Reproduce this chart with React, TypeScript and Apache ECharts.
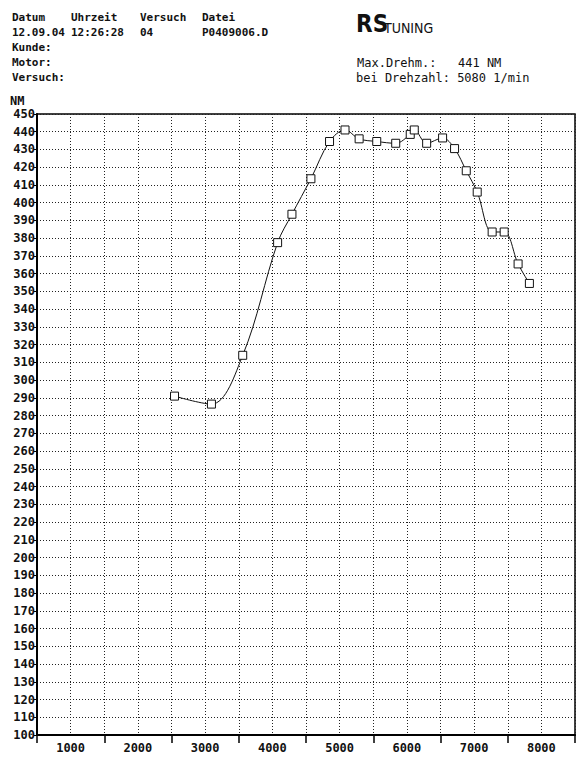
import React, { useEffect, useRef } from "react";
import * as echarts from "echarts";

const rpm = [2545, 3094, 3559, 4078, 4291, 4573, 4850, 5080, 5290, 5552, 5834, 6050, 6110, 6294, 6531, 6709, 6883, 7046, 7268, 7447, 7654, 7822];
const torque = [291, 286.5, 314, 377.5, 393.5, 413.5, 434.5, 441, 436, 434.5, 433.5, 438.5, 441, 433.5, 436.5, 430.5, 418, 406, 383.5, 383.5, 365.5, 354.5];

const headerRow1 = ["Datum", "Uhrzeit", "Versuch", "Datei"];
const headerRow2 = ["12.09.04", "12:26:28", "04", "P0409006.D"];
const headerCols = [12, 71, 140, 202];
const headerLines = ["Kunde:", "Motor:", "Versuch:"];

const MONO = "'DejaVu Sans Mono', 'Liberation Mono', monospace";

export default function App() {
  const ref = useRef<HTMLDivElement>(null);
  useEffect(() => {
    if (!ref.current) return;
    const chart = echarts.init(ref.current, null, { renderer: "svg" });
    const txt = (text: string, x: number, y: number, font: string, extra: any = {}) => ({
      type: "text",
      x,
      y,
      style: { text, font, fill: "#111", verticalAlign: "middle", ...extra },
    });
    const graphics: any[] = [];
    headerRow1.forEach((t, i) => graphics.push(txt(t, headerCols[i], 17, `bold 11px ${MONO}`)));
    headerRow2.forEach((t, i) => graphics.push(txt(t, headerCols[i], 32, `bold 11px ${MONO}`)));
    headerLines.forEach((t, i) => graphics.push(txt(t, 12, 47 + i * 15, `bold 11px ${MONO}`)));
    graphics.push(txt("RS", 356, 24, `bold 24px 'DejaVu Sans Condensed', 'DejaVu Sans', sans-serif`));
    graphics.push(txt("TUNING", 384, 28, `14px 'DejaVu Sans Condensed', 'DejaVu Sans', sans-serif`));
    graphics.push(txt("Max.Drehm.:", 357, 63, `12px ${MONO}`));
    graphics.push(txt("441 NM", 458, 63, `12px ${MONO}`));
    graphics.push(txt("bei Drehzahl: 5080 1/min", 356, 78, `12px ${MONO}`));
    graphics.push(txt("NM", 10, 101, `bold 12px ${MONO}`));

    chart.setOption({
      animation: false,
      backgroundColor: "#fff",
      graphic: graphics,
      grid: {
        left: 37,
        right: 8,
        top: 114,
        bottom: 31,
        show: true,
        borderColor: "#000",
        borderWidth: 1.5,
        backgroundColor: "transparent",
      },
      xAxis: [
        {
          type: "value",
          min: 500,
          max: 8500,
          interval: 500,
          axisLine: { show: true, lineStyle: { color: "#000", width: 2 } },
          axisTick: { show: false },
          axisLabel: {
            margin: 7,
            color: "#111",
            fontFamily: MONO,
            fontWeight: "bold",
            fontSize: 12,
            formatter: (v: number) => (v % 1000 === 0 ? String(v) : ""),
          },
          splitLine: { show: true, lineStyle: { color: "#222", width: 1, type: [1, 2] } },
        },
        {
          type: "value",
          position: "bottom",
          min: 500,
          max: 8500,
          interval: 1000,
          axisLine: { show: false },
          axisTick: { show: true, length: 8, lineStyle: { color: "#000", width: 1.5 } },
          axisLabel: { show: false },
          splitLine: { show: false },
        },
      ],
      yAxis: {
        type: "value",
        min: 100,
        max: 450,
        interval: 10,
        axisLine: { show: true, lineStyle: { color: "#000", width: 2 } },
        axisTick: { show: true, length: 3, lineStyle: { color: "#000" } },
        axisLabel: {
          margin: 2,
          color: "#111",
          fontFamily: MONO,
          fontWeight: "bold",
          fontSize: 12,
        },
        splitLine: { show: true, lineStyle: { color: "#222", width: 1, type: [1, 2] } },
      },
      series: [
        {
          type: "line",
          xAxisIndex: 0,
          data: rpm.map((r, i) => [r, torque[i]]),
          smooth: 0.35,
          symbol: "rect",
          symbolSize: 8,
          lineStyle: { color: "#111", width: 1 },
          itemStyle: { color: "#fff", borderColor: "#111", borderWidth: 1 },
        },
      ],
    });
    return () => chart.dispose();
  }, []);
  return (
    <div
      ref={ref}
      style={{ position: "fixed", left: 0, top: 0, width: 583, height: 766, background: "#fff" }}
    />
  );
}
